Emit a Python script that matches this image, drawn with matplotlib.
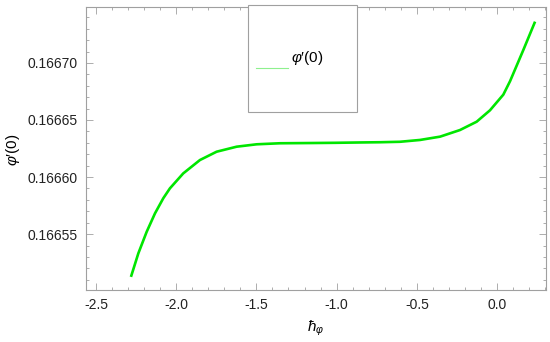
import numpy as np
import matplotlib
matplotlib.use("Agg")
import matplotlib.pyplot as plt
from matplotlib.patches import Rectangle
from matplotlib.lines import Line2D
from matplotlib.ticker import MultipleLocator, FormatStrFormatter

# values
hbar = [-2.282, -2.236, -2.184, -2.132, -2.080, -2.039, -1.956, -1.852,
        -1.748, -1.623, -1.498, -1.353, -1.166, -1.010, -0.854, -0.729,
        -0.605, -0.480, -0.355, -0.231, -0.127, -0.044, 0.039, 0.081,
        0.164, 0.237]
phi0 = [0.1665125, 0.1665331, 0.1665520, 0.1665682, 0.1665815, 0.1665901,
        0.1666032, 0.1666149, 0.1666222, 0.1666266, 0.1666287, 0.1666296,
        0.1666298, 0.1666300, 0.1666303, 0.1666305, 0.1666309, 0.1666325,
        0.1666354, 0.1666412, 0.1666485, 0.1666585, 0.1666722, 0.1666840,
        0.1667114, 0.1667362]

plt.rcParams["font.family"] = ["Liberation Sans", "DejaVu Sans"]
plt.rcParams["mathtext.fontset"] = "custom"
plt.rcParams["mathtext.rm"] = "Liberation Sans"
plt.rcParams["mathtext.it"] = "Liberation Sans:italic"

GREEN = "#00e600"
FRAME = "#a0a0a0"

fig = plt.figure(figsize=(5.5, 3.42), dpi=100)
ax = fig.add_axes([0.1564, 0.152, 0.8363, 0.8275])

ax.plot(hbar, phi0, color=GREEN, lw=1.9, solid_capstyle="butt",
        solid_joinstyle="round")

ax.set_xlim(-2.562, 0.305)
ax.set_ylim(0.166501, 0.166749)

ax.xaxis.set_major_locator(MultipleLocator(0.5))
ax.xaxis.set_minor_locator(MultipleLocator(0.1))
ax.yaxis.set_major_locator(MultipleLocator(0.00005))
ax.yaxis.set_minor_locator(MultipleLocator(0.00001))
ax.xaxis.set_major_formatter(FormatStrFormatter("%.1f"))
ax.yaxis.set_major_formatter(FormatStrFormatter("%.5f"))

for s in ax.spines.values():
    s.set_color(FRAME)
    s.set_linewidth(0.8)
ax.tick_params(which="both", direction="in", top=True, right=True,
               color=FRAME, width=0.6, labelsize=10, labelcolor="#222222")
ax.tick_params(which="major", length=5, pad=6)
ax.tick_params(which="minor", length=2.5)

ax.set_xlabel(r"$\hbar_{\varphi}$", fontsize=11)
ax.xaxis.set_label_coords(0.5, -0.10)
ax.set_ylabel(r"$\varphi$′(0)", fontsize=11)
ax.yaxis.set_label_coords(-0.139, 0.495)

# legend box, drawn like the Mathematica one
fig.patches.append(Rectangle((248 / 550, 1 - 112 / 342), 109 / 550, 107 / 342,
                             transform=fig.transFigure, facecolor="white",
                             edgecolor=FRAME, lw=0.8, zorder=5))
fig.lines.append(Line2D([256 / 550, 288 / 550], [1 - 68 / 342, 1 - 68 / 342],
                        transform=fig.transFigure, color="#8ef08e", lw=0.8,
                        zorder=6))
fig.text(291 / 550, 1 - 58 / 342, r"$\varphi$′(0)", fontsize=11,
         va="center", ha="left", zorder=6)

fig.savefig("out.png", dpi=100)
